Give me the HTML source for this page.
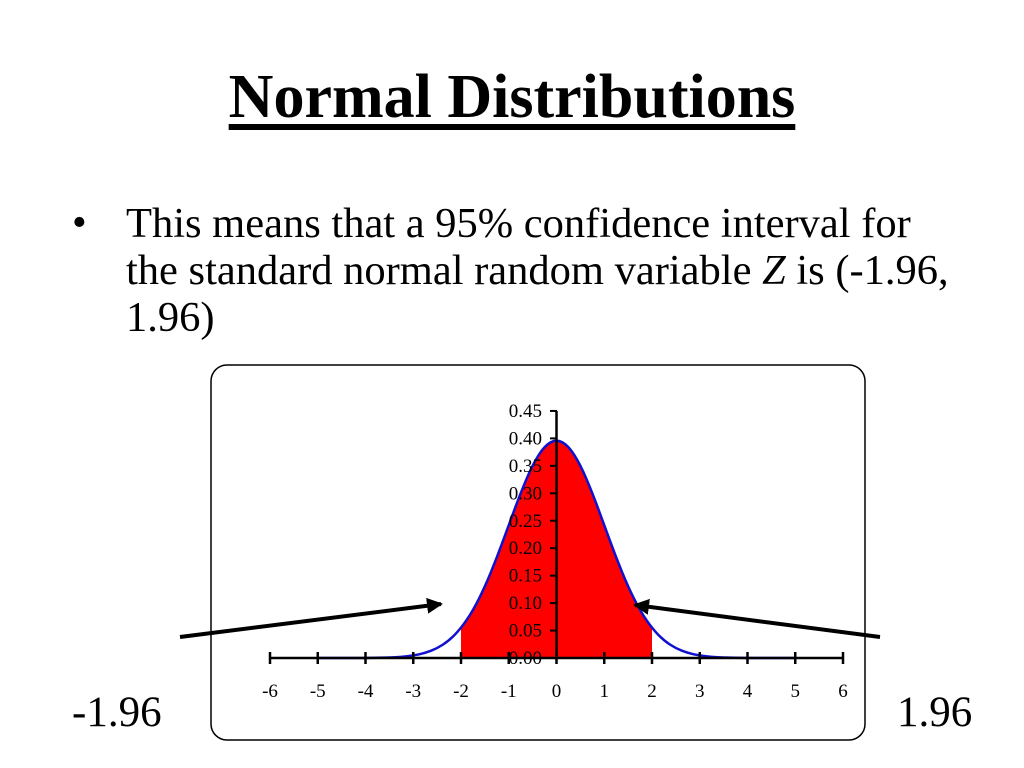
<!DOCTYPE html>
<html><head><meta charset="utf-8"><style>
body{margin:0;width:1024px;height:768px;background:#fff;overflow:hidden;font-family:"Liberation Serif",serif;position:relative}
.t{position:absolute;margin:0;color:#000}
</style></head><body>
<h1 class="t" style="left:0;width:1024px;text-align:center;top:62px;font-size:62px;font-weight:bold;text-decoration:underline;text-underline-offset:7px">Normal Distributions</h1>
<div class="t" style="left:72px;top:200px;font-size:42px;line-height:47px">•</div>
<div class="t" style="left:126px;top:200px;font-size:42.5px;line-height:47px;width:880px;white-space:nowrap">This means that a 95% confidence interval for<br>the standard normal random variable <i>Z</i> is (-1.96,<br>1.96)</div>
<div class="t" style="left:72px;top:688px;font-size:43px">-1.96</div>
<div class="t" style="left:897px;top:688px;font-size:43px">1.96</div>
<svg id="chart" width="1024" height="768" style="position:absolute;left:0;top:0">
<rect x="211" y="365" width="654" height="375" rx="16" fill="none" stroke="#000" stroke-width="1.5"/>
</svg>
<script>
const xVals=[-5,-4.75,-4.5,-4.25,-4,-3.75,-3.5,-3.25,-3,-2.75,-2.5,-2.25,-2,-1.75,-1.5,-1.25,-1,-0.75,-0.5,-0.25,0,0.25,0.5,0.75,1,1.25,1.5,1.75,2,2.25,2.5,2.75,3,3.25,3.5,3.75,4,4.25,4.5,4.75,5];
const pdfVals=[0,0,0,0,0.0001,0.0004,0.0009,0.0020,0.0044,0.0091,0.0175,0.0317,0.0540,0.0863,0.1295,0.1826,0.2420,0.3011,0.3521,0.3867,0.3989,0.3867,0.3521,0.3011,0.2420,0.1826,0.1295,0.0863,0.0540,0.0317,0.0175,0.0091,0.0044,0.0020,0.0009,0.0004,0.0001,0,0,0,0];
const xTicks=[-6,-5,-4,-3,-2,-1,0,1,2,3,4,5,6];
const yTicks=["0.00","0.05","0.10","0.15","0.20","0.25","0.30","0.35","0.40","0.45"];
const shadeFrom=-2, shadeTo=2;
const X=v=>556.5+v*47.75;
const Y=v=>658-v*549;
const svg=document.getElementById('chart');
const NS='http://www.w3.org/2000/svg';
function mk(tag,attrs){const e=document.createElementNS(NS,tag);for(const k in attrs)e.setAttribute(k,attrs[k]);svg.appendChild(e);return e;}
function smooth(p){let d='M'+p[0][0]+','+p[0][1];for(let i=1;i<p.length-1;i++){const mx=(p[i][0]+p[i+1][0])/2,my=(p[i][1]+p[i+1][1])/2;d+=' Q'+p[i][0]+','+p[i][1]+' '+mx+','+my;}const l=p[p.length-1];d+=' L'+l[0]+','+l[1];return d;}
const all=xVals.map((x,i)=>[X(x),Y(pdfVals[i])]);
const sub=[];xVals.forEach((x,i)=>{if(x>=shadeFrom&&x<=shadeTo)sub.push([X(x),Y(pdfVals[i])]);});
const area=mk('path',{d:'M'+X(shadeFrom)+','+Y(0)+' L'+smooth(sub).slice(1)+' L'+X(shadeTo)+','+Y(0)+' Z',fill:'#ff0000'});


const line=mk('path',{d:smooth(all),fill:'none',stroke:'#1010d0','stroke-width':2.5});


const xa=mk('line',{x1:X(-6),x2:X(6),y1:658,y2:658,stroke:'#000','stroke-width':2.5});


xTicks.forEach(t=>{
 const tk=mk('line',{x1:X(t),x2:X(t),y1:652,y2:664,stroke:'#000','stroke-width':2.5});
 
 
 const lb=mk('text',{x:X(t),y:697,'text-anchor':'middle','font-size':19,'font-family':'Liberation Serif, serif'});
 lb.textContent=String(t);
 
 
});
const ya=mk('line',{x1:556.5,x2:556.5,y1:Y(0.45),y2:658,stroke:'#000','stroke-width':2.5});


yTicks.forEach(t=>{
 const v=parseFloat(t);
 const tk=mk('line',{x1:550,x2:557,y1:Y(v),y2:Y(v),stroke:'#000','stroke-width':2});
 
 
 const lb=mk('text',{x:542,y:Y(v)+6,'text-anchor':'end','font-size':19,'font-family':'Liberation Serif, serif'});
 lb.textContent=t;
 
 
});
const defs=mk('defs',{});
defs.innerHTML='<marker id="ah" markerWidth="4" markerHeight="4" refX="3.5" refY="2" orient="auto"><path d="M0,0 L4,2 L0,4 z" fill="#000"/></marker>';
const a1=mk('line',{x1:180,y1:637,x2:441,y2:604,stroke:'#000','stroke-width':4,'marker-end':'url(#ah)'});


const a2=mk('line',{x1:880,y1:637,x2:635,y2:605,stroke:'#000','stroke-width':4,'marker-end':'url(#ah)'});


</script>
</body></html>
